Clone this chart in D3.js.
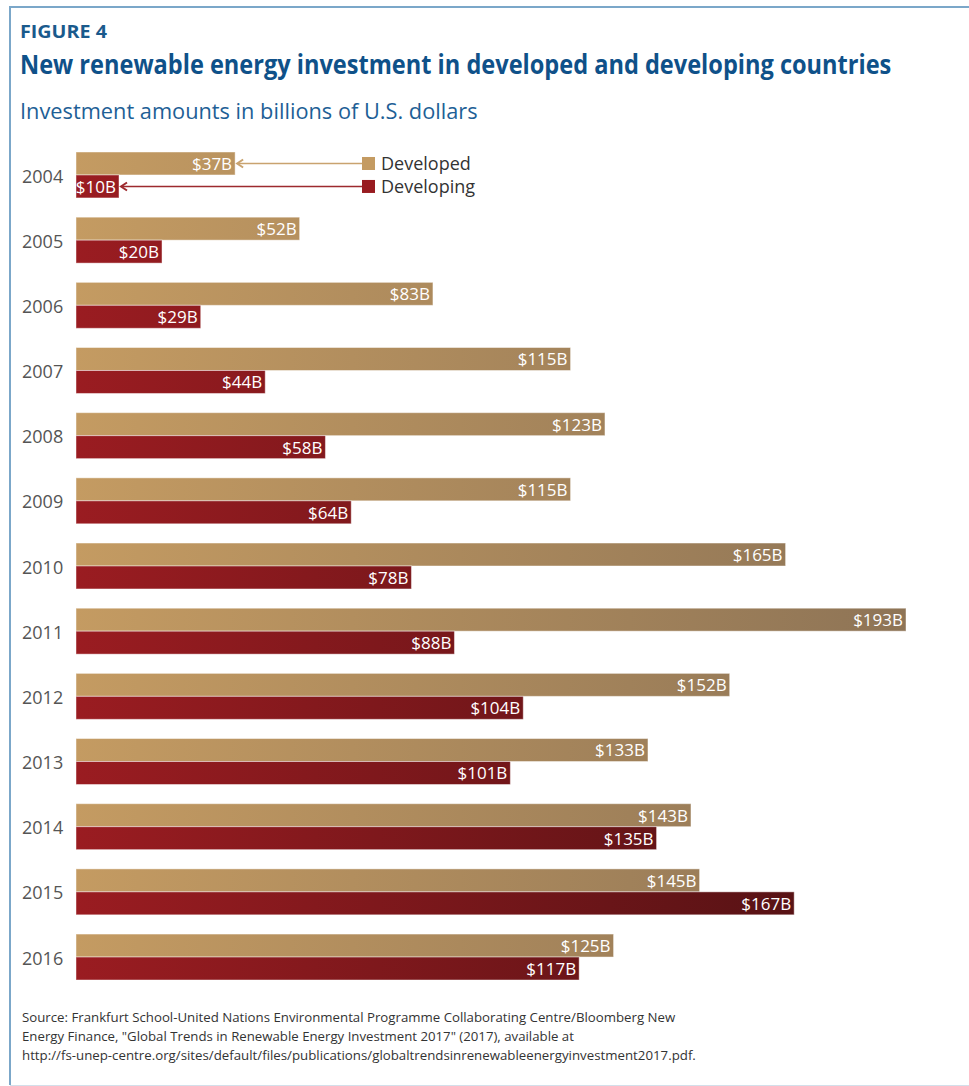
<!DOCTYPE html>
<html lang="en">
<head>
    <meta charset="UTF-8">
    <title>New renewable energy investment in developed and developing countries</title>
    <script src="https://d3js.org/d3.v7.min.js"></script>
    <style>
        body { margin: 0; background: #fff; }
        svg { display: block; font-family: "Open Sans", "Noto Sans", sans-serif; }
        .year { font-size: 18px; fill: #555; }
        .val { font-size: 17px; fill: #fff; text-anchor: end; }
        .legend-text { font-size: 18px; fill: #333; }
        .source { font-size: 13px; fill: #333; }
    </style>
</head>
<body>
<svg id="chart" width="969" height="1086"></svg>
<script>
    // data
    const years = ["2004", "2005", "2006", "2007", "2008", "2009", "2010",
                   "2011", "2012", "2013", "2014", "2015", "2016"];
    const developed = [37, 52, 83, 115, 123, 115, 165, 193, 152, 133, 143, 145, 125];
    const developing = [10, 20, 29, 44, 58, 64, 78, 88, 104, 101, 135, 167, 117];
    const seriesNames = ["Developed", "Developing"];

    const rows = years.map((y, i) => ({ year: y, Developed: developed[i], Developing: developing[i] }));

    const svg = d3.select("#chart");
    const W = 969, H = 1086;

    // scale a text horizontally to a target width (the original font is condensed)
    function fitText(sel, x0, y0, width) {
        const natural = sel.node().getComputedTextLength();
        const k = width / natural;
        sel.attr("x", 0).attr("y", 0)
            .attr("transform", `translate(${x0},${y0}) scale(${k},1)`);
    }

    // frame
    svg.append("line").attr("x1", 9.5).attr("x2", W + 5).attr("y1", 7).attr("y2", 7)
        .attr("stroke", "#7ba7c9").attr("stroke-width", 2);
    svg.append("line").attr("x1", 10).attr("x2", 10).attr("y1", 6).attr("y2", 1085)
        .attr("stroke", "#7ba7c9").attr("stroke-width", 2);
    svg.append("line").attr("x1", 10).attr("x2", W + 5).attr("y1", 1085.5).attr("y2", 1085.5)
        .attr("stroke", "#d3dfea").attr("stroke-width", 1);

    // titles
    svg.append("text")
        .style("font-size", "18.5px").style("font-weight", "bold").attr("fill", "#1a5a8c")
        .text("FIGURE 4")
        .call(fitText, 20, 38, 87);
    svg.append("text")
        .style("font-size", "27px").style("font-weight", "bold").attr("fill", "#0f5189")
        .text("New renewable energy investment in developed and developing countries")
        .call(fitText, 20, 74, 872);
    svg.append("text")
        .style("font-size", "22px").attr("fill", "#1e5f96")
        .text("Investment amounts in billions of U.S. dollars")
        .call(fitText, 20, 119, 458);

    // scales
    const x = d3.scaleLinear().domain([0, 193]).range([76, 906]);
    const y = d3.scaleBand().domain(years).range([152, 980]).paddingInner(0.295).paddingOuter(0);
    const ySub = d3.scaleBand().domain(seriesNames).range([0, y.bandwidth()]).padding(0);

    // gradients across the plot width
    const defs = svg.append("defs");
    const grads = {
        Developed: ["#c49b62", "#8e7456"],
        Developing: ["#9a1c21", "#4e1113"]
    };
    Object.entries(grads).forEach(([k, c]) => {
        const g = defs.append("linearGradient").attr("id", "grad-" + k)
            .attr("gradientUnits", "userSpaceOnUse")
            .attr("x1", x(0)).attr("x2", x(193)).attr("y1", 0).attr("y2", 0);
        g.append("stop").attr("offset", "0%").attr("stop-color", c[0]);
        g.append("stop").attr("offset", "100%").attr("stop-color", c[1]);
    });

    // year labels
    svg.selectAll(".year").data(rows).enter().append("text")
        .attr("class", "year")
        .attr("x", 22)
        .attr("y", d => y(d.year) + y.bandwidth() / 2)
        .attr("dy", "0.42em")
        .text(d => d.year);

    const groups = svg.selectAll(".row").data(rows).enter().append("g")
        .attr("class", "row")
        .attr("transform", d => `translate(0,${y(d.year)})`);

    groups.selectAll("rect").data(d => seriesNames.map(s => ({ key: s, value: d[s] })))
        .enter().append("rect")
        .attr("x", x(0))
        .attr("y", d => ySub(d.key))
        .attr("width", d => x(d.value) - x(0))
        .attr("height", ySub.bandwidth())
        .attr("fill", d => `url(#grad-${d.key})`)
        .attr("stroke", "#fff").attr("stroke-opacity", 0.45).attr("stroke-width", 1);

    groups.selectAll(".val").data(d => seriesNames.map(s => ({ key: s, value: d[s] })))
        .enter().append("text")
        .attr("class", "val")
        .attr("x", d => x(d.value) - 3)
        .attr("y", d => ySub(d.key) + ySub.bandwidth() / 2)
        .attr("dy", "0.38em")
        .text(d => "$" + d.value + "B");

    // legend with pointers to the 2004 bars
    const legendX = 362, sq = 13;
    const legendColors = { Developed: "#c49b62", Developing: "#981b20" };
    const lineColors = { Developed: "#c9a36f", Developing: "#9d2a2e" };
    seriesNames.forEach(s => {
        const cy = y(years[0]) + ySub(s) + ySub.bandwidth() / 2;
        const tip = x(rows[0][s]) + 2;
        svg.append("line").attr("x1", tip + 1).attr("x2", legendX).attr("y1", cy).attr("y2", cy)
            .attr("stroke", lineColors[s]).attr("stroke-width", 1.5);
        svg.append("path")
            .attr("d", `M${tip + 6},${cy - 4}L${tip},${cy}L${tip + 6},${cy + 4}`)
            .attr("fill", "none").attr("stroke", lineColors[s]).attr("stroke-width", 2);
        svg.append("rect").attr("x", legendX).attr("y", cy - sq / 2)
            .attr("width", sq).attr("height", sq).attr("fill", legendColors[s]);
        svg.append("text").attr("class", "legend-text")
            .attr("x", legendX + 19).attr("y", cy).attr("dy", "0.38em")
            .text(s);
    });

    // source note
    const sourceLines = [
        ["Source: Frankfurt School-United Nations Environmental Programme Collaborating Centre/Bloomberg New", 654],
        ["Energy Finance, \"Global Trends in Renewable Energy Investment 2017\" (2017), available at", 552],
        ["http://fs-unep-centre.org/sites/default/files/publications/globaltrendsinrenewableenergyinvestment2017.pdf.", 675]
    ];
    sourceLines.forEach((d, i) => {
        svg.append("text").attr("class", "source")
            .text(d[0])
            .call(fitText, 22, 1022 + i * 19, d[1]);
    });
</script>
</body>
</html>
